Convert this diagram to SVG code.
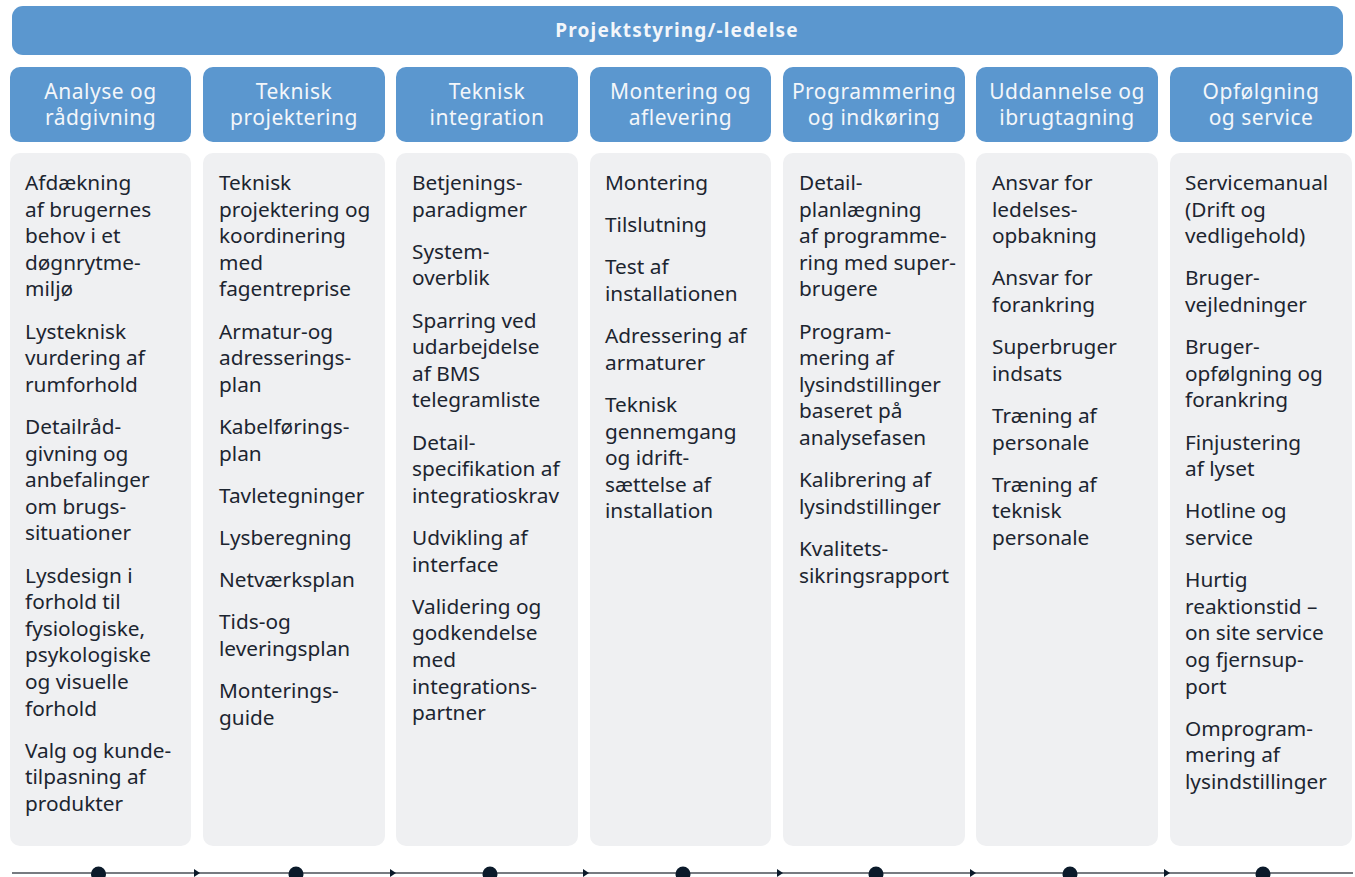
<svg xmlns="http://www.w3.org/2000/svg" width="1355" height="877" viewBox="0 0 1355 877">
<style>
.hdr{fill:#5b97cf}
.box{fill:#eff0f2}
.ht{font-family:"Noto Sans","Liberation Sans",Arial,sans-serif;font-size:21px;fill:#f3f6fa;text-anchor:middle;letter-spacing:0.5px}
.tt{font-family:"Noto Sans","Liberation Sans",Arial,sans-serif;font-size:19px;font-weight:bold;fill:#f3f6fa;text-anchor:middle;letter-spacing:1.15px}
.bt{font-family:"Noto Sans","Liberation Sans",Arial,sans-serif;font-size:20.8px;fill:#1c2530;letter-spacing:0px}
.dot{fill:#0b1a2a}
.ln{stroke:#4a4f57;stroke-width:1.6;fill:none}
.ar{fill:#0b1a2a}
</style>
<rect width="1355" height="877" fill="#ffffff"/>
<g id="title">
<rect class="hdr" x="12" y="6" width="1331" height="49" rx="11"/>
<text class="tt" x="677" y="37">Projektstyring/-ledelse</text>
</g>
<g id="col1">
<rect class="hdr" x="10" y="67" width="181" height="75" rx="10"/>
<text class="ht" x="100.5" y="99">Analyse og</text>
<text class="ht" x="100.5" y="125">rådgivning</text>
<rect class="box" x="10" y="153" width="181" height="693" rx="10"/>
<text class="bt" x="25" y="190"><tspan x="25">Afdækning</tspan><tspan x="25" dy="26.6">af brugernes</tspan><tspan x="25" dy="26.6">behov i et</tspan><tspan x="25" dy="26.6">døgnrytme-</tspan><tspan x="25" dy="26.6">miljø</tspan><tspan x="25" dy="42.2">Lysteknisk</tspan><tspan x="25" dy="26.6">vurdering af</tspan><tspan x="25" dy="26.6">rumforhold</tspan><tspan x="25" dy="42.2">Detailråd-</tspan><tspan x="25" dy="26.6">givning og</tspan><tspan x="25" dy="26.6">anbefalinger</tspan><tspan x="25" dy="26.6">om brugs-</tspan><tspan x="25" dy="26.6">situationer</tspan><tspan x="25" dy="42.2">Lysdesign i</tspan><tspan x="25" dy="26.6">forhold til</tspan><tspan x="25" dy="26.6">fysiologiske,</tspan><tspan x="25" dy="26.6">psykologiske</tspan><tspan x="25" dy="26.6">og visuelle</tspan><tspan x="25" dy="26.6">forhold</tspan><tspan x="25" dy="42.2">Valg og kunde-</tspan><tspan x="25" dy="26.6">tilpasning af</tspan><tspan x="25" dy="26.6">produkter</tspan></text>
</g>
<g id="col2">
<rect class="hdr" x="203" y="67" width="182" height="75" rx="10"/>
<text class="ht" x="294" y="99">Teknisk</text>
<text class="ht" x="294" y="125">projektering</text>
<rect class="box" x="203" y="153" width="182" height="693" rx="10"/>
<text class="bt" x="219" y="190"><tspan x="219">Teknisk</tspan><tspan x="219" dy="26.6">projektering og</tspan><tspan x="219" dy="26.6">koordinering</tspan><tspan x="219" dy="26.6">med</tspan><tspan x="219" dy="26.6">fagentreprise</tspan><tspan x="219" dy="42.2">Armatur-og</tspan><tspan x="219" dy="26.6">adresserings-</tspan><tspan x="219" dy="26.6">plan</tspan><tspan x="219" dy="42.2">Kabelførings-</tspan><tspan x="219" dy="26.6">plan</tspan><tspan x="219" dy="42.2">Tavletegninger</tspan><tspan x="219" dy="42.2">Lysberegning</tspan><tspan x="219" dy="42.2">Netværksplan</tspan><tspan x="219" dy="42.2">Tids-og</tspan><tspan x="219" dy="26.6">leveringsplan</tspan><tspan x="219" dy="42.2">Monterings-</tspan><tspan x="219" dy="26.6">guide</tspan></text>
</g>
<g id="col3">
<rect class="hdr" x="396" y="67" width="182" height="75" rx="10"/>
<text class="ht" x="487" y="99">Teknisk</text>
<text class="ht" x="487" y="125">integration</text>
<rect class="box" x="396" y="153" width="182" height="693" rx="10"/>
<text class="bt" x="412" y="190"><tspan x="412">Betjenings-</tspan><tspan x="412" dy="26.6">paradigmer</tspan><tspan x="412" dy="42.2">System-</tspan><tspan x="412" dy="26.6">overblik</tspan><tspan x="412" dy="42.2">Sparring ved</tspan><tspan x="412" dy="26.6">udarbejdelse</tspan><tspan x="412" dy="26.6">af BMS</tspan><tspan x="412" dy="26.6">telegramliste</tspan><tspan x="412" dy="42.2">Detail-</tspan><tspan x="412" dy="26.6">specifikation af</tspan><tspan x="412" dy="26.6">integratioskrav</tspan><tspan x="412" dy="42.2">Udvikling af</tspan><tspan x="412" dy="26.6">interface</tspan><tspan x="412" dy="42.2">Validering og</tspan><tspan x="412" dy="26.6">godkendelse</tspan><tspan x="412" dy="26.6">med</tspan><tspan x="412" dy="26.6">integrations-</tspan><tspan x="412" dy="26.6">partner</tspan></text>
</g>
<g id="col4">
<rect class="hdr" x="590" y="67" width="181" height="75" rx="10"/>
<text class="ht" x="680.5" y="99">Montering og</text>
<text class="ht" x="680.5" y="125">aflevering</text>
<rect class="box" x="590" y="153" width="181" height="693" rx="10"/>
<text class="bt" x="605" y="190"><tspan x="605">Montering</tspan><tspan x="605" dy="42.2">Tilslutning</tspan><tspan x="605" dy="42.2">Test af</tspan><tspan x="605" dy="26.6">installationen</tspan><tspan x="605" dy="42.2">Adressering af</tspan><tspan x="605" dy="26.6">armaturer</tspan><tspan x="605" dy="42.2">Teknisk</tspan><tspan x="605" dy="26.6">gennemgang</tspan><tspan x="605" dy="26.6">og idrift-</tspan><tspan x="605" dy="26.6">sættelse af</tspan><tspan x="605" dy="26.6">installation</tspan></text>
</g>
<g id="col5">
<rect class="hdr" x="783" y="67" width="182" height="75" rx="10"/>
<text class="ht" x="874" y="99">Programmering</text>
<text class="ht" x="874" y="125">og indkøring</text>
<rect class="box" x="783" y="153" width="182" height="693" rx="10"/>
<text class="bt" x="799" y="190"><tspan x="799">Detail-</tspan><tspan x="799" dy="26.6">planlægning</tspan><tspan x="799" dy="26.6">af programme-</tspan><tspan x="799" dy="26.6">ring med super-</tspan><tspan x="799" dy="26.6">brugere</tspan><tspan x="799" dy="42.2">Program-</tspan><tspan x="799" dy="26.6">mering af</tspan><tspan x="799" dy="26.6">lysindstillinger</tspan><tspan x="799" dy="26.6">baseret på</tspan><tspan x="799" dy="26.6">analysefasen</tspan><tspan x="799" dy="42.2">Kalibrering af</tspan><tspan x="799" dy="26.6">lysindstillinger</tspan><tspan x="799" dy="42.2">Kvalitets-</tspan><tspan x="799" dy="26.6">sikringsrapport</tspan></text>
</g>
<g id="col6">
<rect class="hdr" x="976" y="67" width="182" height="75" rx="10"/>
<text class="ht" x="1067" y="99">Uddannelse og</text>
<text class="ht" x="1067" y="125">ibrugtagning</text>
<rect class="box" x="976" y="153" width="182" height="693" rx="10"/>
<text class="bt" x="992" y="190"><tspan x="992">Ansvar for</tspan><tspan x="992" dy="26.6">ledelses-</tspan><tspan x="992" dy="26.6">opbakning</tspan><tspan x="992" dy="42.2">Ansvar for</tspan><tspan x="992" dy="26.6">forankring</tspan><tspan x="992" dy="42.2">Superbruger</tspan><tspan x="992" dy="26.6">indsats</tspan><tspan x="992" dy="42.2">Træning af</tspan><tspan x="992" dy="26.6">personale</tspan><tspan x="992" dy="42.2">Træning af</tspan><tspan x="992" dy="26.6">teknisk</tspan><tspan x="992" dy="26.6">personale</tspan></text>
</g>
<g id="col7">
<rect class="hdr" x="1170" y="67" width="182" height="75" rx="10"/>
<text class="ht" x="1261" y="99">Opfølgning</text>
<text class="ht" x="1261" y="125">og service</text>
<rect class="box" x="1170" y="153" width="182" height="693" rx="10"/>
<text class="bt" x="1185" y="190"><tspan x="1185">Servicemanual</tspan><tspan x="1185" dy="26.6">(Drift og</tspan><tspan x="1185" dy="26.6">vedligehold)</tspan><tspan x="1185" dy="42.2">Bruger-</tspan><tspan x="1185" dy="26.6">vejledninger</tspan><tspan x="1185" dy="42.2">Bruger-</tspan><tspan x="1185" dy="26.6">opfølgning og</tspan><tspan x="1185" dy="26.6">forankring</tspan><tspan x="1185" dy="42.2">Finjustering</tspan><tspan x="1185" dy="26.6">af lyset</tspan><tspan x="1185" dy="42.2">Hotline og</tspan><tspan x="1185" dy="26.6">service</tspan><tspan x="1185" dy="42.2">Hurtig</tspan><tspan x="1185" dy="26.6">reaktionstid –</tspan><tspan x="1185" dy="26.6">on site service</tspan><tspan x="1185" dy="26.6">og fjernsup-</tspan><tspan x="1185" dy="26.6">port</tspan><tspan x="1185" dy="42.2">Omprogram-</tspan><tspan x="1185" dy="26.6">mering af</tspan><tspan x="1185" dy="26.6">lysindstillinger</tspan></text>
</g>
<g id="connectors">
<line class="ln" x1="12" y1="873" x2="1353" y2="873"/>
<path class="ar" d="M194,869 L200,873 L194,877 Z"/>
<path class="ar" d="M390,869 L396,873 L390,877 Z"/>
<path class="ar" d="M583,869 L589,873 L583,877 Z"/>
<path class="ar" d="M777,869 L783,873 L777,877 Z"/>
<path class="ar" d="M970,869 L976,873 L970,877 Z"/>
<path class="ar" d="M1164,869 L1170,873 L1164,877 Z"/>
<circle class="dot" cx="98.5" cy="874" r="7.5"/>
<circle class="dot" cx="296" cy="874" r="7.5"/>
<circle class="dot" cx="490" cy="874" r="7.5"/>
<circle class="dot" cx="683" cy="874" r="7.5"/>
<circle class="dot" cx="876" cy="874" r="7.5"/>
<circle class="dot" cx="1070" cy="874" r="7.5"/>
<circle class="dot" cx="1263" cy="874" r="7.5"/>
</g>
</svg>
